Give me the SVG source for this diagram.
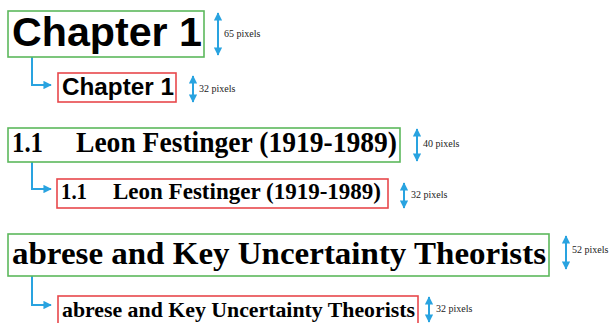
<svg xmlns="http://www.w3.org/2000/svg" width="611" height="323" viewBox="0 0 611 323">
<defs>
<marker id="ah" viewBox="0 0 10 10" refX="9" refY="5" markerWidth="4.2" markerHeight="4.2" orient="auto-start-reverse" markerUnits="strokeWidth">
<path d="M0,0 L10,5 L0,10 z" fill="#29a3e0"/>
</marker>
</defs>
<style>
.g{fill:#fff;stroke:#5cb85c;stroke-width:1.6}
.r{fill:#fff;stroke:#e8484b;stroke-width:1.6}
.conn{fill:none;stroke:#29a3e0;stroke-width:2}
.dim{stroke:#29a3e0;stroke-width:2;marker-start:url(#ah);marker-end:url(#ah)}
.sans{font-family:"Liberation Sans",Arial,sans-serif;font-weight:bold;fill:#000}
.serif{font-family:"Liberation Serif","Times New Roman",serif;font-weight:bold;fill:#000}
.lbl{font-family:"Liberation Serif","Times New Roman",serif;font-size:10px;fill:#222}
</style>
<rect width="611" height="323" fill="#fff"/>
<g id="connectors">
<path class="conn" d="M32 57 V85 H51" marker-end="url(#ah)"/>
<path class="conn" d="M32 162 V189 H51" marker-end="url(#ah)"/>
<path class="conn" d="M32 276 V305 H51" marker-end="url(#ah)"/>
</g>
<g id="n1">
<rect class="g" x="8" y="11" width="196" height="46"/>
<text class="sans" x="12" y="46" font-size="41" textLength="190" lengthAdjust="spacingAndGlyphs">Chapter 1</text>
<line class="dim" x1="218" y1="13" x2="218" y2="55"/>
<text class="lbl" x="224" y="37">65 pixels</text>
</g>
<g id="n2">
<rect class="r" x="58" y="73" width="118" height="29"/>
<text class="sans" x="62" y="95" font-size="23" textLength="112" lengthAdjust="spacingAndGlyphs">Chapter 1</text>
<line class="dim" x1="193" y1="76" x2="193" y2="102"/>
<text class="lbl" x="199" y="92">32 pixels</text>
</g>
<g id="n3">
<rect class="g" x="8" y="128" width="392" height="34"/>
<text class="serif" x="12" y="152" font-size="29" textLength="31" lengthAdjust="spacingAndGlyphs">1.1</text>
<text class="serif" x="76" y="152" font-size="29" textLength="321" lengthAdjust="spacingAndGlyphs">Leon Festinger (1919-1989)</text>
<line class="dim" x1="417" y1="129" x2="417" y2="161"/>
<text class="lbl" x="423" y="147">40 pixels</text>
</g>
<g id="n4">
<rect class="r" x="57" y="179" width="331" height="29"/>
<text class="serif" x="61" y="199" font-size="22.5" textLength="26" lengthAdjust="spacingAndGlyphs">1.1</text>
<text class="serif" x="113" y="199" font-size="22.5" textLength="268" lengthAdjust="spacingAndGlyphs">Leon Festinger (1919-1989)</text>
<line class="dim" x1="404" y1="183" x2="404" y2="208"/>
<text class="lbl" x="411" y="198">32 pixels</text>
</g>
<g id="n5">
<rect class="g" x="8" y="234" width="541" height="42"/>
<text class="serif" x="12" y="264" font-size="32" textLength="534" lengthAdjust="spacingAndGlyphs">abrese and Key Uncertainty Theorists</text>
<line class="dim" x1="566" y1="236" x2="566" y2="269"/>
<text class="lbl" x="572" y="253">52 pixels</text>
</g>
<g id="n6">
<rect class="r" x="58" y="296" width="360" height="32"/>
<text class="serif" x="62" y="317" font-size="22" textLength="353" lengthAdjust="spacingAndGlyphs">abrese and Key Uncertainty Theorists</text>
<line class="dim" x1="429" y1="297" x2="429" y2="322"/>
<text class="lbl" x="436" y="312">32 pixels</text>
</g>
</svg>
